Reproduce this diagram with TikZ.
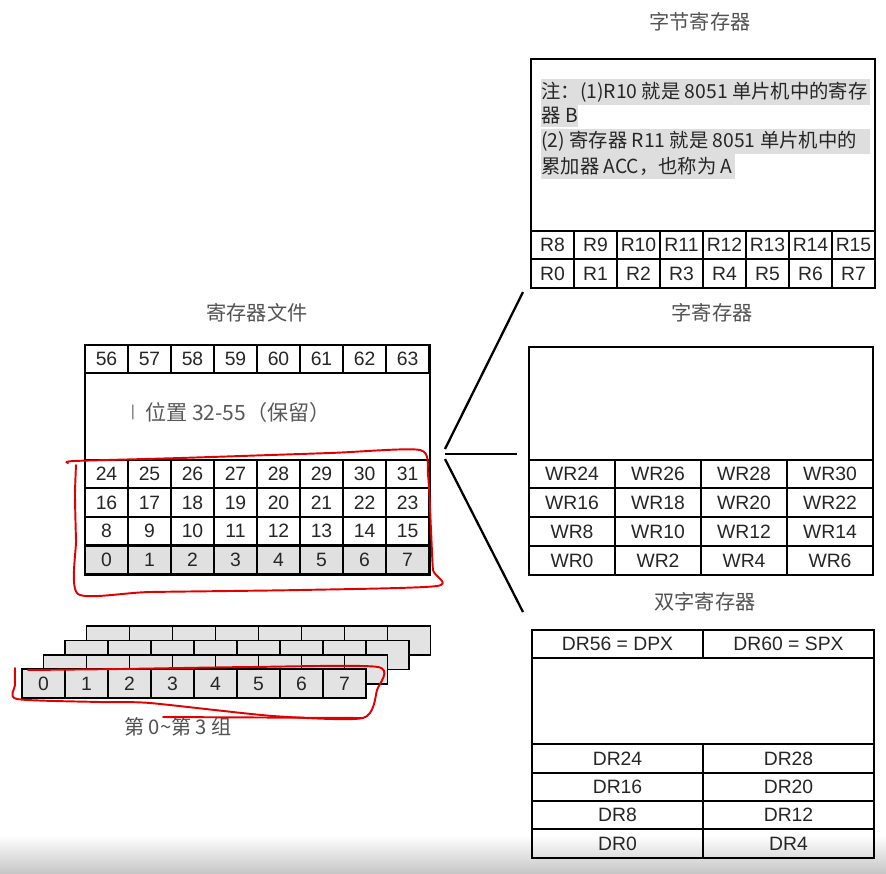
\documentclass[tikz,border=0pt]{standalone}
\usepackage{fontspec}
\setmainfont{Liberation Sans}
\newfontfamily\cjk{Noto Sans CJK SC}
\tikzset{
  cell/.style={draw, line width=1pt, inner sep=0pt, outer sep=0pt,
    minimum width=0.86cm, minimum height=0.57cm,
    font=\fontsize{11}{13}\selectfont, text=black!85},
  wcell/.style={cell, minimum width=1.72cm},
  dcell/.style={cell, minimum width=3.42cm},
  bankcell/.style={cell, fill=black!11, minimum height=0.58cm},
  blank/.style={draw, line width=1pt, inner sep=0pt, outer sep=0pt},
  frame/.style={line width=1.6pt},
  title/.style={font=\cjk\fontsize{11.5}{14}\selectfont, text=black!68},
  note/.style={font=\cjk\fontsize{11}{13}\selectfont, inner sep=0pt,
    anchor=west, text=black!85},
  notebg/.style={fill=black!13},
  redline/.style={draw=red!88!black, line width=1.1pt, line join=round, line cap=round},
  fan/.style={line width=1.3pt}
}
\begin{document}
\begin{tikzpicture}[x=0.02cm, y=-0.02cm]
\useasboundingbox (0,0) rectangle (886,873);
\shade[top color=white, bottom color=black!22] (0,835) rectangle (886,873);

\node[title] (filetitle) at (257,313) {寄存器文件};
\node[blank, minimum width=6.9cm, minimum height=1.74cm] (resv) at (257.5,416.5) {};
\node[font=\cjk\fontsize{12}{14}\selectfont, text=black!65] (resvtext) at (238,412) {位置 32-55（保留）};
\node[font=\fontsize{9}{10}\selectfont, text=black!55] (cursor) at (133,412) {|};
\foreach \i in {0,...,7} {
  \pgfmathtruncatemacro\a{56+\i}
  \node[cell] (f7-\i) at ({106.5+43*\i},359) {\a};
}
\foreach \r/\y/\b in {3/474/24, 2/502.5/16, 1/531/8} {
  \foreach \i in {0,...,7} {
    \pgfmathtruncatemacro\a{\b+\i}
    \node[cell] (f\r-\i) at ({106.5+43*\i},\y) {\a};
  }
}
\foreach \i in {0,...,7}
  \node[cell, fill=black!12] (f0-\i) at ({106.5+43*\i},560) {\i};
\draw[frame] (85,345) rectangle (430,575);

\node[title] (bytetitle) at (700,22) {字节寄存器};
\node[blank, minimum width=6.88cm, minimum height=3.44cm] (bytenote) at (703,145) {};
\fill[notebg] (541,79) rectangle (870,105);
\fill[notebg] (541,105) rectangle (578,127);
\fill[notebg] (541,129) rectangle (870,154);
\fill[notebg] (541,154) rectangle (735,179);
\node[note] (note1) at (541,92) {注：(1)R10 就是 8051 单片机中的寄存};
\node[note] (note2) at (541,116) {器 B};
\node[note] (note3) at (541,141) {(2) 寄存器 R11 就是 8051 单片机中的};
\node[note] (note4) at (541,166) {累加器 ACC，也称为 A};
\foreach \i in {0,...,7} {
  \pgfmathtruncatemacro\a{8+\i}
  \node[cell, minimum height=0.56cm] (bh-\i) at ({552.5+43*\i},245) {R\a};
  \node[cell, minimum height=0.58cm] (bl-\i) at ({552.5+43*\i},273.5) {R\i};
}
\draw[frame] (531,59) rectangle (875,288);

\node[title] (wordtitle) at (712,313) {字寄存器};
\node[blank, minimum width=6.88cm, minimum height=2.26cm] (wordblank) at (701,403.5) {};
\foreach \r/\y/\b in {3/474/24, 2/502.5/16, 1/531.5/8, 0/560.5/0} {
  \foreach \i in {0,...,3} {
    \pgfmathtruncatemacro\a{\b+2*\i}
    \node[wcell] (w\r-\i) at ({572+86*\i},\y) {WR\a};
  }
}
\draw[frame] (529,347) rectangle (873,575);

\node[title] (dwordtitle) at (705,602) {双字寄存器};
\node[dcell, minimum height=0.56cm] (dpx) at (617.5,644) {DR56 = DPX};
\node[dcell, minimum height=0.56cm] (spx) at (788.5,644) {DR60 = SPX};
\node[blank, minimum width=6.84cm, minimum height=1.72cm] (dwordblank) at (703,701) {};
\foreach \r/\y/\b in {3/758.5/24, 2/787/16, 1/815/8, 0/843.5/0} {
  \pgfmathtruncatemacro\a{\b}
  \pgfmathtruncatemacro\c{\b+4}
  \node[dcell] (d\r-0) at (617.5,\y) {DR\a};
  \node[dcell] (d\r-1) at (788.5,\y) {DR\c};
}
\draw[frame] (532,630) rectangle (874,858);

\coordinate (fan-a) at (445,449);
\coordinate (fan-b) at (445,454);
\coordinate (fan-c) at (445,459);
\coordinate (to-byte) at (523,292);
\coordinate (to-word) at (517,454);
\coordinate (to-dword) at (523,612);
\draw[fan] (fan-a) -- (to-byte);
\draw[fan] (fan-b) -- (to-word);
\draw[fan] (fan-c) -- (to-dword);

\foreach \k in {3,2,1,0} {
  \foreach \i in {0,...,7}
    \node[bankcell] (g\k-\i) at ({43.5+21.5*\k+43*\i},{683.5-14.3*\k}) {\ifnum\k=0 \i\fi};
}
\node[title] (banktitle) at (178,727) {第 0\textasciitilde 第 3 组};

\draw[redline] plot[smooth, tension=0.4] coordinates {(68,463) (74,461) (180,458) (330,453) (420,450)
  (428,475) (431,530) (433,570) (437,586) (300,590) (150,592) (78,594) (76,540) (75,495) (76,465)};
\draw[redline] plot[smooth, tension=0.4] coordinates {(28,670) (120,669) (250,667) (378,667)
  (377,690) (363,718) (273,716) (150,703) (100,702) (17,699) (15,685) (15,668)};
\draw[redline] (163,717) -- (363,718);
\end{tikzpicture}
\end{document}
